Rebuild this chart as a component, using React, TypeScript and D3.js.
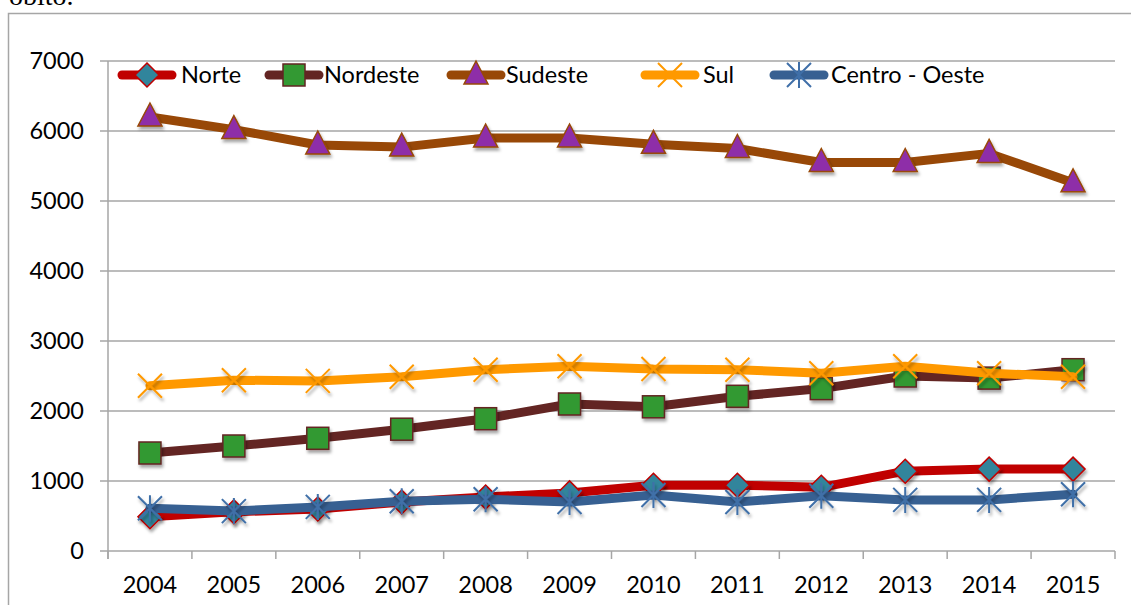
import React, { useEffect, useRef } from "react";
import * as d3 from "d3";

// ── Data ──────────────────────────────────────────────────────────────────────

const YEARS = ["2004", "2005", "2006", "2007", "2008", "2009", "2010", "2011", "2012", "2013", "2014", "2015"];
const Y_TICKS = [0, 1000, 2000, 3000, 4000, 5000, 6000, 7000];

const NORTE = [490, 560, 600, 700, 770, 830, 940, 940, 910, 1140, 1170, 1170];
const NORDESTE = [1400, 1500, 1610, 1740, 1890, 2100, 2060, 2210, 2320, 2500, 2470, 2590];
const SUDESTE = [6200, 6020, 5800, 5770, 5900, 5900, 5810, 5750, 5550, 5550, 5680, 5260];
const SUL = [2360, 2440, 2430, 2490, 2590, 2640, 2600, 2590, 2540, 2640, 2540, 2490];
const CENTRO_OESTE = [610, 570, 630, 710, 740, 700, 800, 700, 790, 730, 730, 810];

type Marker = "diamond" | "square" | "triangle" | "x" | "star";

const SERIES: { name: string; values: number[]; line: string; fill: string; stroke: string; marker: Marker }[] = [
  { name: "Norte", values: NORTE, line: "#C00000", fill: "#31859C", stroke: "#C00000", marker: "diamond" },
  { name: "Nordeste", values: NORDESTE, line: "#632523", fill: "#339933", stroke: "#632523", marker: "square" },
  { name: "Sudeste", values: SUDESTE, line: "#984807", fill: "#8E2EA8", stroke: "#984807", marker: "triangle" },
  { name: "Sul", values: SUL, line: "#FF9900", fill: "none", stroke: "#FF9900", marker: "x" },
  { name: "Centro - Oeste", values: CENTRO_OESTE, line: "#376092", fill: "none", stroke: "#3F6FA8", marker: "star" },
];

// ── Layout ────────────────────────────────────────────────────────────────────

const W = 1131;
const H = 605;
const PLOT = { left: 108, right: 1115, top: 61, bottom: 551 };
const FONT = "Lato, 'Open Sans', sans-serif";
const FONT_SIZE = 23.5;
const GRID = "#A6A6A6";

function drawMarker(g: d3.Selection<SVGGElement, unknown, null, undefined>, type: Marker, x: number, y: number, fill: string, stroke: string) {
  const s = 11;
  if (type === "diamond") {
    g.append("path")
      .attr("d", `M${x},${y - s - 1}L${x + s + 1},${y}L${x},${y + s + 1}L${x - s - 1},${y}Z`)
      .attr("fill", fill).attr("stroke", stroke).attr("stroke-width", 1.5);
  } else if (type === "square") {
    g.append("rect")
      .attr("x", x - s).attr("y", y - s).attr("width", 2 * s).attr("height", 2 * s)
      .attr("fill", fill).attr("stroke", stroke).attr("stroke-width", 1.5);
  } else if (type === "triangle") {
    g.append("path")
      .attr("d", `M${x},${y - 14}L${x + 12},${y + 9}L${x - 12},${y + 9}Z`)
      .attr("fill", fill).attr("stroke", stroke).attr("stroke-width", 1.5);
  } else if (type === "x") {
    const t = 12;
    g.append("path")
      .attr("d", `M${x - t},${y - t}L${x + t},${y + t}M${x - t},${y + t}L${x + t},${y - t}`)
      .attr("stroke", stroke).attr("stroke-width", 2).attr("fill", "none");
  } else {
    const t = 12;
    g.append("path")
      .attr("d", `M${x - t},${y - t}L${x + t},${y + t}M${x - t},${y + t}L${x + t},${y - t}M${x},${y - t - 1}L${x},${y + t + 1}`)
      .attr("stroke", stroke).attr("stroke-width", 2).attr("fill", "none");
  }
}

function renderChart(svgEl: SVGSVGElement) {
  const svg = d3.select(svgEl);
  svg.selectAll("*").remove();

  const defs = svg.append("defs");
  defs.append("filter")
    .attr("id", "shadow")
    .attr("x", "-50%").attr("y", "-50%").attr("width", "200%").attr("height", "200%")
    .append("feDropShadow")
    .attr("dx", 1.5).attr("dy", 3).attr("stdDeviation", 1.5)
    .attr("flood-color", "#000").attr("flood-opacity", 0.35);

  // caption fragment above the chart (cut at the top, as in the page)
  svg.append("text")
    .attr("x", 9).attr("y", 5)
    .attr("font-family", "'Liberation Serif', serif")
    .attr("font-size", 28)
    .attr("fill", "#000")
    .text("óbito.");

  // outer chart border
  svg.append("rect")
    .attr("x", 8.5).attr("y", 13.5).attr("width", W + 20).attr("height", H + 20)
    .attr("fill", "white").attr("stroke", GRID).attr("stroke-width", 1.5);

  const x = d3.scaleBand().domain(YEARS).range([PLOT.left, PLOT.right]);
  const y = d3.scaleLinear().domain([0, 7000]).range([PLOT.bottom, PLOT.top]);
  const cx = (yr: string) => (x(yr) ?? 0) + x.bandwidth() / 2;

  // gridlines + y labels
  Y_TICKS.forEach((t) => {
    svg.append("line")
      .attr("x1", PLOT.left - 8).attr("x2", PLOT.right)
      .attr("y1", y(t)).attr("y2", y(t))
      .attr("stroke", GRID).attr("stroke-width", 1.5);
    svg.append("text")
      .attr("x", 84).attr("y", y(t))
      .attr("dy", "0.36em")
      .attr("text-anchor", "end")
      .attr("font-family", FONT).attr("font-size", FONT_SIZE).attr("fill", "#000")
      .text(String(t));
  });

  // y axis
  svg.append("line")
    .attr("x1", PLOT.left).attr("x2", PLOT.left)
    .attr("y1", PLOT.top).attr("y2", PLOT.bottom + 8)
    .attr("stroke", GRID).attr("stroke-width", 1.5);

  // x ticks at band boundaries
  d3.range(YEARS.length + 1).forEach((i) => {
    const px = PLOT.left + i * x.bandwidth();
    svg.append("line")
      .attr("x1", px).attr("x2", px)
      .attr("y1", PLOT.bottom).attr("y2", PLOT.bottom + 8)
      .attr("stroke", GRID).attr("stroke-width", 1.5);
  });
  YEARS.forEach((yr) => {
    svg.append("text")
      .attr("x", cx(yr)).attr("y", 585)
      .attr("dy", "0.36em")
      .attr("text-anchor", "middle")
      .attr("font-family", FONT).attr("font-size", FONT_SIZE).attr("fill", "#000")
      .text(yr);
  });

  // series
  const line = d3.line<number>()
    .x((_, i) => cx(YEARS[i]))
    .y((d) => y(d))
    .curve(d3.curveLinear);

  SERIES.forEach((s) => {
    svg.append("path")
      .attr("d", line(s.values))
      .attr("fill", "none")
      .attr("stroke", s.line)
      .attr("stroke-width", 9)
      .attr("stroke-linejoin", "round")
      .attr("stroke-linecap", "round");
    const mg = svg.append("g").attr("filter", "url(#shadow)");
    s.values.forEach((v, i) => drawMarker(mg, s.marker, cx(YEARS[i]), y(v), s.fill, s.stroke));
  });

  // legend
  const legendItems = [
    { x: 118, tx: 181 },
    { x: 265, tx: 324 },
    { x: 447, tx: 506 },
    { x: 641, tx: 703 },
    { x: 770, tx: 831 },
  ];
  SERIES.forEach((s, i) => {
    const { x: lx, tx } = legendItems[i];
    const ly = 75;
    svg.append("line")
      .attr("x1", lx + 4).attr("x2", lx + 54)
      .attr("y1", ly).attr("y2", ly)
      .attr("stroke", s.line).attr("stroke-width", 9).attr("stroke-linecap", "round");
    const mg = svg.append("g");
    drawMarker(mg, s.marker, lx + 29, ly, s.fill, s.stroke);
    svg.append("text")
      .attr("x", tx).attr("y", ly)
      .attr("dy", "0.36em")
      .attr("font-family", FONT).attr("font-size", FONT_SIZE).attr("fill", "#000")
      .text(s.name);
  });
}

export default function App() {
  const svgRef = useRef<SVGSVGElement>(null);

  useEffect(() => {
    if (svgRef.current) renderChart(svgRef.current);
  }, []);

  return (
    <svg
      ref={svgRef}
      width={W}
      height={H}
      style={{ position: "absolute", left: 0, top: 0, background: "white" }}
    />
  );
}
